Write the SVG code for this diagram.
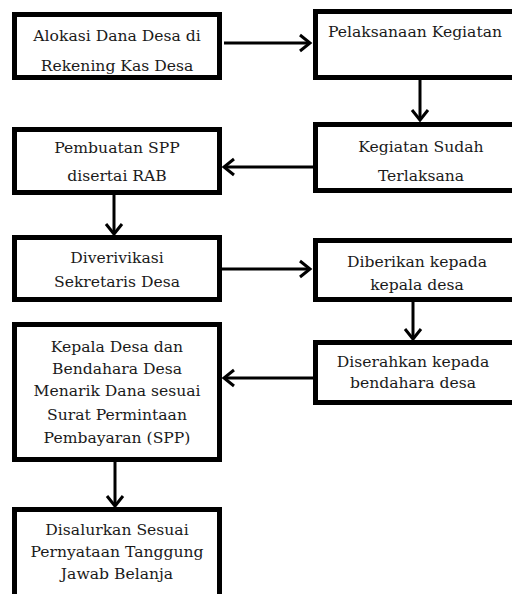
<svg xmlns="http://www.w3.org/2000/svg" width="512" height="594" viewBox="0 0 512 594">
<style>
.box{fill:#fff;stroke:#000;stroke-width:5}
.t{font-family:"DejaVu Serif","Liberation Serif",serif;font-size:15.6px;fill:#1a1a1a;text-anchor:middle}
.c{fill:none;stroke:#000;stroke-width:3}
</style>
<defs>
<marker id="ah" markerUnits="userSpaceOnUse" markerWidth="16" markerHeight="20" refX="13" refY="10" orient="auto" viewBox="0 0 16 20">
<polyline points="3,2 13,10 3,18" fill="none" stroke="#000" stroke-width="3"/>
</marker>
</defs>
<rect width="512" height="594" fill="#fff"/>
<g id="n1"><rect class="box" x="14.5" y="14.5" width="205" height="63"/><text class="t" x="117" y="41">Alokasi Dana Desa di</text><text class="t" x="117" y="71">Rekening Kas Desa</text></g>
<g id="n2"><rect class="box" x="315.5" y="11.5" width="210" height="66"/><text class="t" x="415" y="37">Pelaksanaan Kegiatan</text></g>
<g id="n3"><rect class="box" x="315.5" y="124.5" width="210" height="66"/><text class="t" x="421" y="152">Kegiatan Sudah</text><text class="t" x="421" y="181">Terlaksana</text></g>
<g id="n4"><rect class="box" x="14.5" y="129.5" width="205" height="63"/><text class="t" x="117" y="153">Pembuatan SPP</text><text class="t" x="117" y="181">disertai RAB</text></g>
<g id="n5"><rect class="box" x="14.5" y="237.5" width="205" height="62"/><text class="t" x="117" y="263">Diverivikasi</text><text class="t" x="117" y="287">Sekretaris Desa</text></g>
<g id="n6"><rect class="box" x="315.5" y="240.5" width="210" height="59"/><text class="t" x="417" y="267">Diberikan kepada</text><text class="t" x="417" y="290">kepala desa</text></g>
<g id="n7"><rect class="box" x="315.5" y="342.5" width="210" height="60"/><text class="t" x="413" y="367">Diserahkan kepada</text><text class="t" x="413" y="388">bendahara desa</text></g>
<g id="n8"><rect class="box" x="14.5" y="324.5" width="205" height="135"/><text class="t" x="117" y="352">Kepala Desa dan</text><text class="t" x="117" y="374">Bendahara Desa</text><text class="t" x="117" y="396">Menarik Dana sesuai</text><text class="t" x="117" y="420">Surat Permintaan</text><text class="t" x="117" y="443">Pembayaran (SPP)</text></g>
<g id="n9"><rect class="box" x="14.5" y="509.5" width="205" height="100"/><text class="t" x="117" y="535">Disalurkan Sesuai</text><text class="t" x="117" y="557">Pernyataan Tanggung</text><text class="t" x="117" y="579">Jawab Belanja</text></g>
<g id="connectors">
<line class="c" x1="224" y1="43" x2="310" y2="43" marker-end="url(#ah)"/>
<line class="c" x1="420" y1="80" x2="420" y2="120" marker-end="url(#ah)"/>
<line class="c" x1="313" y1="167" x2="224" y2="167" marker-end="url(#ah)"/>
<line class="c" x1="114" y1="195" x2="114" y2="234" marker-end="url(#ah)"/>
<line class="c" x1="222" y1="269" x2="310" y2="269" marker-end="url(#ah)"/>
<line class="c" x1="413" y1="302" x2="413" y2="339" marker-end="url(#ah)"/>
<line class="c" x1="313" y1="378" x2="224" y2="378" marker-end="url(#ah)"/>
<line class="c" x1="115" y1="462" x2="115" y2="506" marker-end="url(#ah)"/>
</g>
</svg>
